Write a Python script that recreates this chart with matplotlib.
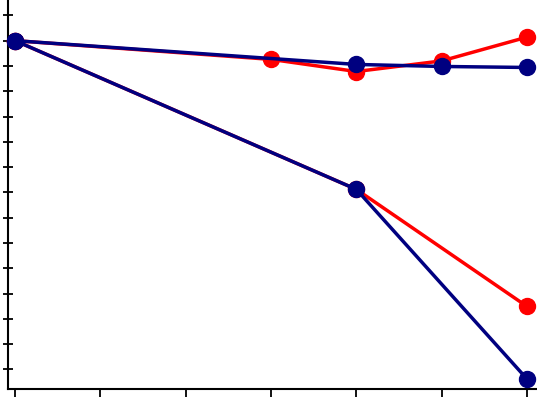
import matplotlib
matplotlib.use("Agg")
import matplotlib.pyplot as plt
import numpy as np

# Data
upper_red_x = [0, 3, 4, 5, 6]
upper_red_y = [1.0, 0.963, 0.939, 0.960, 1.007]
upper_blue_x = [0, 4, 5, 6]
upper_blue_y = [1.0, 0.953, 0.949, 0.947]
lower_x = [0, 4, 6]
lower_red_y = [1.0, 0.706, 0.4745]
lower_blue_y = [1.0, 0.706, 0.331]

x_ticks = [0, 1, 2, 3, 4, 5, 6]
y_ticks = np.round(np.arange(0.35, 1.0501, 0.05), 2)

RED = "#ff0000"
BLUE = "#000080"

fig = plt.figure(figsize=(5.37, 3.97), dpi=100)
ax = fig.add_axes([8 / 537, 8 / 397, 1 - 8 / 537, 1 - 8 / 397])

lw = 2.5
ms = 11.5
ax.plot(upper_red_x, upper_red_y, color=RED, lw=lw, marker="o", ms=ms, zorder=2)
ax.plot(lower_x, lower_red_y, color=RED, lw=lw, marker="o", ms=ms, zorder=2)
ax.plot(upper_blue_x, upper_blue_y, color=BLUE, lw=lw, marker="o", ms=ms, zorder=3)
ax.plot(lower_x, lower_blue_y, color=BLUE, lw=lw, marker="o", ms=ms, zorder=3)

ax.set_xlim(-0.082, 6.117)
ax.set_ylim(0.3113, 1.0804)
ax.set_xticks(x_ticks)
ax.set_yticks(y_ticks)
ax.set_xticklabels([])
ax.set_yticklabels([])
ax.tick_params(axis="x", direction="out", length=6, width=1.3, color="black")
ax.tick_params(axis="y", direction="inout", length=7, width=1.3, color="black")
for s in ["top", "right"]:
    ax.spines[s].set_visible(False)
for s in ["left", "bottom"]:
    ax.spines[s].set_linewidth(1.5)
    ax.spines[s].set_color("black")
for line in ax.get_lines():
    line.set_clip_on(False)

fig.savefig("out.png", dpi=100)
